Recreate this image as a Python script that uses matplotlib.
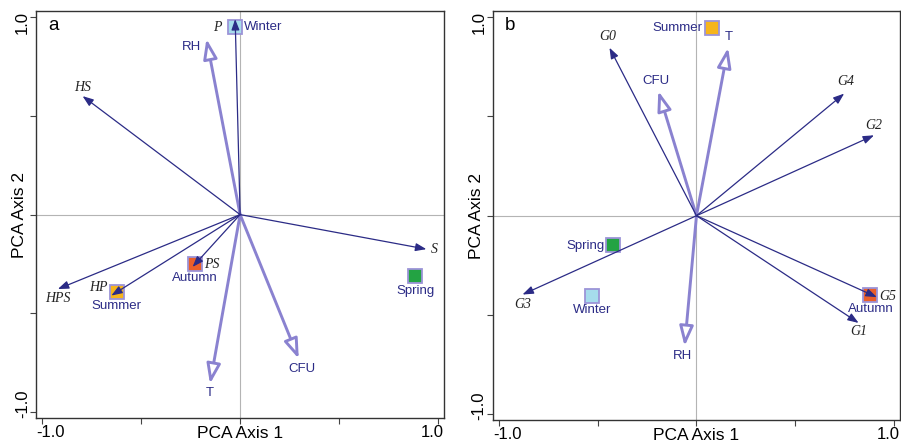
import matplotlib
matplotlib.use("Agg")
import matplotlib.pyplot as plt
from matplotlib.patches import FancyArrowPatch

plt.rcParams['font.family'] = ['Liberation Sans', 'DejaVu Sans']

# ---- panel a data ----
a_species = ['P', 'HS', 'S', 'HPS', 'HP', 'PS']
a_species_x = [-0.025, -0.795, 0.94, -0.92, -0.65, -0.24]
a_species_y = [0.99, 0.60, -0.175, -0.377, -0.41, -0.265]
a_env = ['RH', 'T', 'CFU']
a_env_x = [-0.17, -0.152, 0.296]
a_env_y = [0.89, -0.857, -0.73]
a_season = ['Winter', 'Autumn', 'Summer', 'Spring']
a_season_x = [-0.025, -0.229, -0.623, 0.885]
a_season_y = [0.948, -0.25, -0.394, -0.31]

# ---- panel b data ----
b_species = ['G0', 'G4', 'G2', 'G3', 'G5', 'G1']
b_species_x = [-0.44, 0.747, 0.898, -0.88, 0.912, 0.82]
b_species_y = [0.846, 0.615, 0.405, -0.397, -0.41, -0.54]
b_env = ['T', 'CFU', 'RH']
b_env_x = [0.16, -0.193, -0.06]
b_env_y = [0.846, 0.628, -0.657]
b_season = ['Summer', 'Spring', 'Winter', 'Autumn']
b_season_x = [0.08, -0.42, -0.53, 0.88]
b_season_y = [0.943, -0.15, -0.405, -0.40]

tick_vals = [-1, -0.5, 0, 0.5, 1]
end_labels = ['-1.0', '1.0']

season_colors = {'Winter': '#a6dcec', 'Autumn': '#ea5f2a', 'Summer': '#f6b51c', 'Spring': '#23a343'}

NAVY = '#2b2b86'
PURPLE = '#8a82d0'
EDGE = '#9c94d8'

# label offsets (points) and alignment, styling only
a_species_off = {'P': (-13, -6), 'HS': (0, 6.5), 'S': (6, 0), 'HPS': (0, -7), 'HP': (-9.6, 6), 'PS': (14, 2)}
a_env_off = {'RH': (-11, -6), 'T': (0, -6.5), 'CFU': (2.4, -7.5)}
a_season_off = {'Winter': (6, 0, 'left'), 'Autumn': (0, -10.3, 'center'),
                'Summer': (0, -10, 'center'), 'Spring': (0, -10.8, 'center')}
b_species_off = {'G0': (-1, 8.4), 'G4': (1, 9), 'G2': (0, 6.7), 'G3': (0, -7), 'G5': (7.6, 0.7), 'G1': (0, -6.5)}
b_env_off = {'T': (0.7, 7.7), 'CFU': (-1.7, 7.2), 'RH': (-1.2, -7.2)}
b_season_off = {'Summer': (-6.8, 0, 'right'), 'Spring': (-6, -0.7, 'right'),
                'Winter': (0, -10.3, 'center'), 'Autumn': (0, -10, 'center')}


def draw_panel(ax, letter, sp, spx, spy, sp_off, env, ex, ey, env_off, sea, sx, sy, sea_off):
    ax.set_xlim(-1.03, 1.03)
    ax.set_ylim(-1.03, 1.03)
    ax.axhline(0, color='#b4b4b4', lw=0.8, zorder=0)
    ax.axvline(0, color='#b4b4b4', lw=0.8, zorder=0)

    # season squares (under the arrows)
    for name, x, y in zip(sea, sx, sy):
        ax.plot(x, y, 's', ms=10, mfc=season_colors[name], mec=EDGE, mew=1.3, zorder=2)
        dx, dy, ha = sea_off[name]
        ax.annotate(name, (x, y), xytext=(dx, dy), textcoords='offset points',
                    ha=ha, va='center', fontsize=9.5, color=NAVY, zorder=5)

    # environmental vectors: thick, hollow heads
    for name, x, y in zip(env, ex, ey):
        arr = FancyArrowPatch((0, 0), (x, y), arrowstyle='-|>,head_length=1.2,head_width=0.42',
                              mutation_scale=10, lw=2.1, ec=PURPLE, fc='white',
                              shrinkA=0, shrinkB=0, zorder=3)
        ax.add_patch(arr)
        dx, dy = env_off[name]
        ax.annotate(name, (x, y), xytext=(dx, dy), textcoords='offset points',
                    ha='center', va='center', fontsize=9.5, color=NAVY, zorder=5)

    # species vectors: thin, filled heads
    for name, x, y in zip(sp, spx, spy):
        arr = FancyArrowPatch((0, 0), (x, y), arrowstyle='-|>,head_length=0.65,head_width=0.24',
                              mutation_scale=10, lw=0.9, ec=NAVY, fc=NAVY,
                              shrinkA=0, shrinkB=0, zorder=4)
        ax.add_patch(arr)
        dx, dy = sp_off[name]
        ax.annotate(name, (x, y), xytext=(dx, dy), textcoords='offset points',
                    ha='center', va='center', fontsize=10, color='#222222',
                    family='Liberation Serif', style='italic', zorder=5)

    # ticks without labels; end labels sit flush with the frame
    ax.set_xticks(tick_vals)
    ax.set_yticks(tick_vals)
    ax.set_xticklabels([])
    ax.set_yticklabels([])
    ax.tick_params(direction='out', length=4, width=0.8, color='#444444')
    ax.text(0, -0.017, end_labels[0], transform=ax.transAxes, ha='left', va='top', fontsize=12)
    ax.text(1, -0.017, end_labels[1], transform=ax.transAxes, ha='right', va='top', fontsize=12)
    ax.text(-0.015, 0, end_labels[0], transform=ax.transAxes, ha='right', va='bottom',
            rotation=90, fontsize=12)
    ax.text(-0.015, 1, end_labels[1], transform=ax.transAxes, ha='right', va='top',
            rotation=90, fontsize=12)

    for s in ax.spines.values():
        s.set_color('#333333')
        s.set_linewidth(1.0)
    ax.set_xlabel('PCA Axis 1', fontsize=12.5)
    ax.set_ylabel('PCA Axis 2', fontsize=12.5)
    ax.xaxis.set_label_coords(0.5, -0.02)
    ax.yaxis.set_label_coords(-0.022, 0.5)
    ax.text(0.03, 0.965, letter, transform=ax.transAxes, fontsize=13.5,
            ha='left', va='center', color='black')


fig = plt.figure(figsize=(9.01, 4.48), dpi=100)
ax_a = fig.add_axes([0.040, 0.067, 0.453, 0.908])
ax_b = fig.add_axes([0.547, 0.062, 0.452, 0.913])

draw_panel(ax_a, 'a', a_species, a_species_x, a_species_y, a_species_off,
           a_env, a_env_x, a_env_y, a_env_off, a_season, a_season_x, a_season_y, a_season_off)
draw_panel(ax_b, 'b', b_species, b_species_x, b_species_y, b_species_off,
           b_env, b_env_x, b_env_y, b_env_off, b_season, b_season_x, b_season_y, b_season_off)

fig.savefig('out.png', dpi=100)
